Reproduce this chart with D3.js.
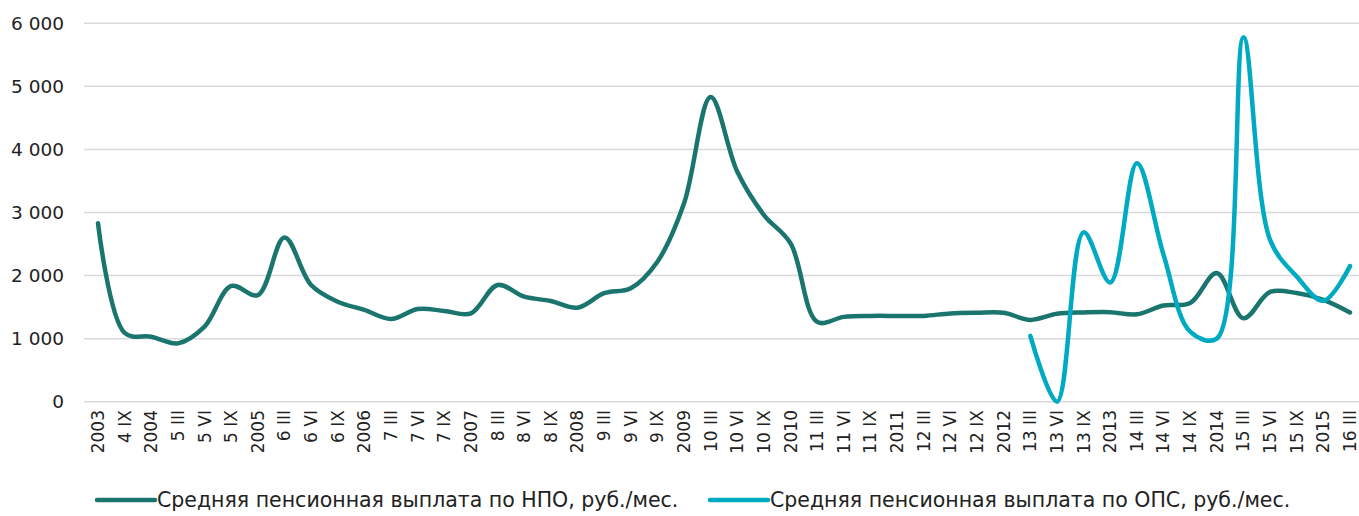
<!DOCTYPE html>
<html>
<head>
<meta charset="utf-8">
<script src="https://cdn.jsdelivr.net/npm/d3@7"></script>
<style>
  body { margin: 0; background: #fff; }
  text { font-family: "DejaVu Sans", sans-serif; fill: #222; }
</style>
</head>
<body>
<div id="chart"></div>
<script>
var categories = ["2003", "4 IX", "2004", "5 III", "5 VI", "5 IX", "2005", "6 III", "6 VI", "6 IX",
  "2006", "7 III", "7 VI", "7 IX", "2007", "8 III", "8 VI", "8 IX", "2008", "9 III",
  "9 VI", "9 IX", "2009", "10 III", "10 VI", "10 IX", "2010", "11 III", "11 VI", "11 IX",
  "2011", "12 III", "12 VI", "12 IX", "2012", "13 III", "13 VI", "13 IX", "2013", "14 III",
  "14 VI", "14 IX", "2014", "15 III", "15 VI", "15 IX", "2015", "16 III"];

// НПО, руб./мес.
var npo = [2830, 1090, 1030, 925, 1190, 1835, 1690, 2605, 1850, 1585,
  1455, 1310, 1470, 1440, 1400, 1850, 1665, 1597, 1490, 1720,
  1800, 2220, 3145, 4830, 3645, 2960, 2510, 1265, 1345, 1360,
  1360, 1360, 1400, 1410, 1410, 1297, 1395, 1415, 1420, 1385,
  1525, 1565, 2040, 1322, 1740, 1722, 1615, 1415];

// ОПС, руб./мес. (starts at 13 III)
var ops = [null, null, null, null, null, null, null, null, null, null,
  null, null, null, null, null, null, null, null, null, null,
  null, null, null, null, null, null, null, null, null, null,
  null, null, null, null, null, 1045, 0, 2685, 1890, 3780,
  2330, 1110, 1000, 5780, 2565, 1985, 1600, 2150];

var yTicks = [0, 1000, 2000, 3000, 4000, 5000, 6000];

var seriesNames = ["Средняя пенсионная выплата по НПО, руб./мес.",
  "Средняя пенсионная выплата по ОПС, руб./мес."];
var colors = ["#1b756f", "#00aac3"];

var width = 1359, height = 516;

var svg = d3.select("#chart")
  .append("svg")
  .attr("width", width)
  .attr("height", height);

var x = d3.scalePoint()
  .domain(categories)
  .range([98, 1350]);

var y = d3.scaleLinear()
  .domain([0, 6000])
  .range([401.7, 23.3]);

var fmt = d3.formatLocale({ decimal: ",", thousands: " ", grouping: [3], currency: ["", ""] }).format(",");

// grid
svg.append("g")
  .selectAll("line")
  .data(yTicks)
  .enter().append("line")
  .attr("x1", 84)
  .attr("x2", width)
  .attr("y1", function (d) { return y(d); })
  .attr("y2", function (d) { return y(d); })
  .attr("stroke", "#d9d9d9")
  .attr("stroke-width", 1.5);

// y axis labels
var yAxis = svg.append("g")
  .attr("transform", "translate(70,0)")
  .call(d3.axisLeft(y).tickValues(yTicks).tickFormat(fmt).tickSize(0).tickPadding(6));
yAxis.select(".domain").remove();
yAxis.selectAll("text")
  .style("font-size", "18.5px")
  .style("font-family", "DejaVu Sans, sans-serif")
  .attr("fill", "#222");

// x axis labels, rotated
var xAxis = svg.append("g")
  .attr("transform", "translate(0,402)")
  .call(d3.axisBottom(x).tickSize(0).tickPadding(0));
xAxis.select(".domain").remove();
xAxis.selectAll("text")
  .style("font-size", "17px")
  .style("font-family", "DejaVu Sans, sans-serif")
  .attr("fill", "#222")
  .attr("transform", "rotate(-90)")
  .attr("text-anchor", "end")
  .attr("dy", "0.32em")
  .attr("y", 0)
  .attr("x", -8);

var line = d3.line()
  .defined(function (d) { return d != null; })
  .x(function (d, i) { return x(categories[i]); })
  .y(function (d) { return y(d); })
  .curve(d3.curveCatmullRom.alpha(0.5));

[npo, ops].forEach(function (s, k) {
  svg.append("path")
    .datum(s)
    .attr("fill", "none")
    .attr("stroke", colors[k])
    .attr("stroke-width", 4.5)
    .attr("stroke-linecap", "round")
    .attr("stroke-linejoin", "round")
    .attr("d", line);
});

// legend
var legendX = [97, 710];
var legend = svg.append("g")
  .selectAll("g")
  .data(seriesNames)
  .enter().append("g")
  .attr("transform", function (d, i) { return "translate(" + legendX[i] + ",500)"; });

legend.append("line")
  .attr("x1", 0)
  .attr("x2", 58)
  .attr("stroke", function (d, i) { return colors[i]; })
  .attr("stroke-width", 4.5)
  .attr("stroke-linecap", "round");

legend.append("text")
  .attr("x", 60)
  .attr("dy", "0.35em")
  .style("font-size", "20.5px")
  .text(function (d) { return d; });
</script>
</body>
</html>
